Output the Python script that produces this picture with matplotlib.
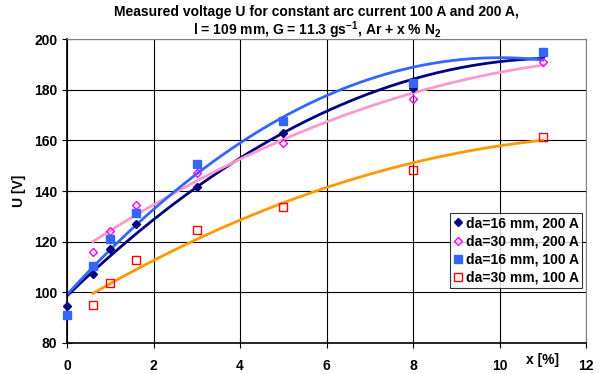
import numpy as np
import matplotlib
matplotlib.use('Agg')
import matplotlib.pyplot as plt

plt.rcParams['font.family'] = ['Liberation Sans', 'DejaVu Sans']
plt.rcParams['font.weight'] = 'bold'
plt.rcParams['mathtext.fontset'] = 'custom'
plt.rcParams['mathtext.bf'] = 'Liberation Sans:bold'
plt.rcParams['mathtext.rm'] = 'Liberation Sans:bold'

x_all = [0, 0.6, 1, 1.6, 3, 5, 8, 11]
x_part = [0.6, 1, 1.6, 3, 5, 8, 11]
u_16_200 = [94.7, 107.3, 117.0, 127.0, 141.6, 163.0, 180.8, 194.0]
u_30_200 = [116.0, 124.2, 134.3, 147.2, 158.8, 176.2, 191.0]
u_16_100 = [91.0, 110.4, 120.9, 131.2, 150.5, 167.6, 182.5, 195.0]
u_30_100 = [95.0, 103.8, 112.6, 124.5, 133.8, 148.3, 161.5]

labels = ['da=16 mm, 200 A', 'da=30 mm, 200 A', 'da=16 mm, 100 A', 'da=30 mm, 100 A']

fig = plt.figure(figsize=(5.99, 3.74), dpi=100)
ax = fig.add_axes([0.1119, 0.0829, 0.8664, 0.8128])

series = [
    (x_all, u_16_200, '#000080', '#000080', 'D', '#000080', 4.5),
    (x_part, u_30_200, '#FF99CC', 'none', 'D', '#FF00FF', 4.5),
    (x_all, u_16_100, '#3366FF', '#3366FF', 's', '#3366FF', 6),
    (x_part, u_30_100, '#FF9900', 'none', 's', '#FF0000', 6),
]

# second order trend lines
for xs, ys, lc, fc, mk, ec, ms in series:
    p = np.polyfit(xs, ys, 2)
    xf = np.linspace(min(xs), max(xs), 200)
    ax.plot(xf, np.polyval(p, xf), color=lc, lw=2, zorder=2)

handles = []
for (xs, ys, lc, fc, mk, ec, ms), lab in zip(series, labels):
    h, = ax.plot(xs, ys, linestyle='none', marker=mk, ms=ms, mfc=fc, mec=ec,
                 mew=1, label=lab, zorder=3, clip_on=False)
    handles.append(h)

ax.set_xlim(0, 12)
ax.set_ylim(80, 200)
ax.set_xticks(range(0, 13, 2))
ax.set_yticks(range(80, 201, 20))
ax.grid(True, color='black', lw=0.8)
ax.set_axisbelow(True)
for s in ['top', 'right']:
    ax.spines[s].set_color('#808080')
ax.spines['left'].set_linewidth(1.2)
ax.spines['bottom'].set_linewidth(1.2)
ax.tick_params(direction='inout', length=7, labelsize=10)
ax.tick_params(axis='x', pad=8)
for t in ax.get_xticklabels() + ax.get_yticklabels():
    t.set_fontweight('bold')

ax.set_ylabel('U [V]', fontsize=10, fontweight='bold', labelpad=6)
ax.text(11.0, 76.0, 'x [%]', fontsize=10, fontweight='bold', ha='center', va='top')

fig.text(0.529, 0.957, 'Measured voltage U for constant arc current 100 A and 200 A,',
         ha='center', va='baseline', fontsize=10, fontweight='bold')
fig.text(0.529, 0.906, r'l = 109 mm, G = 11.3 gs$^{\mathbf{-1}}$, Ar + x % N$_{\mathbf{2}}$',
         ha='center', va='baseline', fontsize=10, fontweight='bold')

leg = ax.legend(handles=handles, loc='upper right', bbox_to_anchor=(0.993, 0.428),
                fontsize=10, frameon=True, fancybox=False, edgecolor='black',
                handlelength=0.6, handletextpad=0.3, borderpad=0.25,
                labelspacing=0.3, borderaxespad=0)
leg.get_frame().set_linewidth(0.8)
for t in leg.get_texts():
    t.set_fontweight('bold')

fig.savefig('out.png', dpi=100)
